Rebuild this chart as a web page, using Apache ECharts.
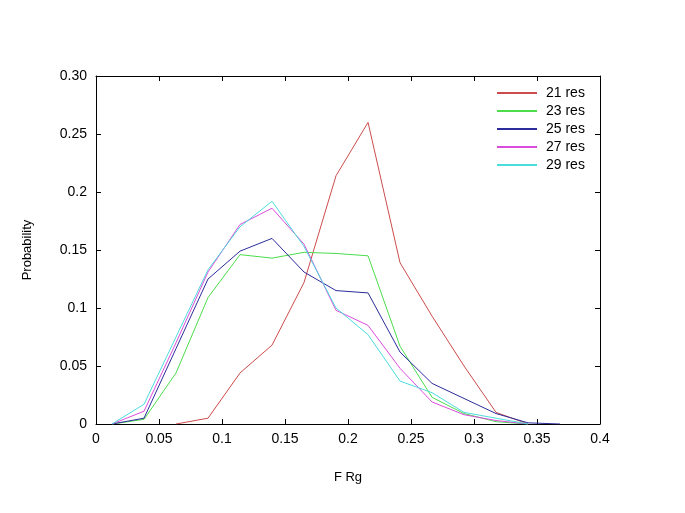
<!DOCTYPE html>
<html>
<head>
<meta charset="utf-8">
<title>Probability vs F Rg</title>
<style>
  html, body { margin: 0; padding: 0; background: #fff; }
  #chart { width: 685px; height: 513px; }
</style>
</head>
<body>
<div id="chart"></div>
<script src="https://cdn.jsdelivr.net/npm/echarts@6/dist/echarts.min.js"></script>
<script>
// bin centres (F Rg)
var xs = [0.0127, 0.0381, 0.0635, 0.0889, 0.1143, 0.1397, 0.1651, 0.1905,
          0.2159, 0.2413, 0.2667, 0.2921, 0.3175, 0.3429, 0.3683];

var res21 = [null, null, 0, 0.005, 0.044, 0.068, 0.122, 0.214, 0.260, 0.139, 0.093, 0.050, 0.010, 0];
var res23 = [0, 0.004, 0.044, 0.109, 0.146, 0.143, 0.148, 0.147, 0.145, 0.067, 0.023, 0.009, 0.002, 0];
var res25 = [0, 0.005, 0.065, 0.125, 0.149, 0.160, 0.131, 0.115, 0.113, 0.062, 0.035, 0.022, 0.009, 0.001, 0];
var res27 = [0, 0.011, 0.070, 0.131, 0.172, 0.186, 0.155, 0.098, 0.085, 0.048, 0.019, 0.008, 0.003, 0];
var res29 = [0, 0.017, 0.075, 0.133, 0.170, 0.192, 0.153, 0.100, 0.077, 0.037, 0.027, 0.010, 0.005, 0];

var names = ['21 res', '23 res', '25 res', '27 res', '29 res'];
var colors = ['#cc4c4c', '#4cdc4c', '#2c2c9c', '#dc4cdc', '#4cdcdc'];
var yTicks = ['0', '0.05', '0.1', '0.15', '0.2', '0.25', '0.30'];

function pairs(vals) {
  var out = [];
  for (var i = 0; i < vals.length; i++) {
    if (vals[i] !== null) out.push([xs[i], vals[i]]);
  }
  return out;
}

var chart = echarts.init(document.getElementById('chart'));
var font = 'Liberation Sans, Arial, sans-serif';
var allSeries = [res21, res23, res25, res27, res29];

var axisCommon = {
  axisLine: { show: true, onZero: false, lineStyle: { color: '#000', width: 1 } },
  axisTick: { show: true, inside: true, length: 5, lineStyle: { color: '#000' } },
  splitLine: { show: false }
};

chart.setOption({
  animation: false,
  backgroundColor: '#fff',
  textStyle: { fontFamily: font },
  grid: { left: 96, right: 85, top: 76, bottom: 89, show: false },
  legend: {
    orient: 'vertical',
    left: 497,
    top: 85,
    padding: 0,
    itemWidth: 40,
    itemHeight: 2,
    itemGap: 2,
    icon: 'rect',
    data: names,
    textStyle: { fontSize: 14, color: '#000', lineHeight: 16, fontFamily: font, padding: [0, 0, 0, 4] }
  },
  xAxis: [
    Object.assign({
      type: 'value', min: 0, max: 0.4, interval: 0.05,
      name: 'F Rg', nameLocation: 'middle', nameGap: 47,
      nameTextStyle: { fontSize: 13, color: '#000' },
      axisLabel: { color: '#000', fontSize: 14, margin: 8,
        formatter: function (v) { return +v.toFixed(2) + ''; } }
    }, axisCommon),
    Object.assign({
      type: 'value', min: 0, max: 0.4, interval: 0.05, position: 'top',
      axisLabel: { show: false }
    }, axisCommon)
  ],
  yAxis: [
    Object.assign({
      type: 'value', min: 0, max: 0.3, interval: 0.05,
      name: 'Probability', nameLocation: 'middle', nameGap: 62, nameRotate: 90,
      nameTextStyle: { fontSize: 13, color: '#000' },
      axisLabel: { color: '#000', fontSize: 14, margin: 9,
        formatter: function (v) { return yTicks[Math.round(v / 0.05)]; } }
    }, axisCommon),
    Object.assign({
      type: 'value', min: 0, max: 0.3, interval: 0.05, position: 'right',
      axisLabel: { show: false }
    }, axisCommon)
  ],
  series: names.map(function (n, i) {
    return {
      name: n,
      type: 'line',
      data: pairs(allSeries[i]),
      showSymbol: false,
      symbol: 'none',
      color: colors[i],
      lineStyle: { width: 1, color: colors[i] },
      z: 1
    };
  })
});
</script>
</body>
</html>
